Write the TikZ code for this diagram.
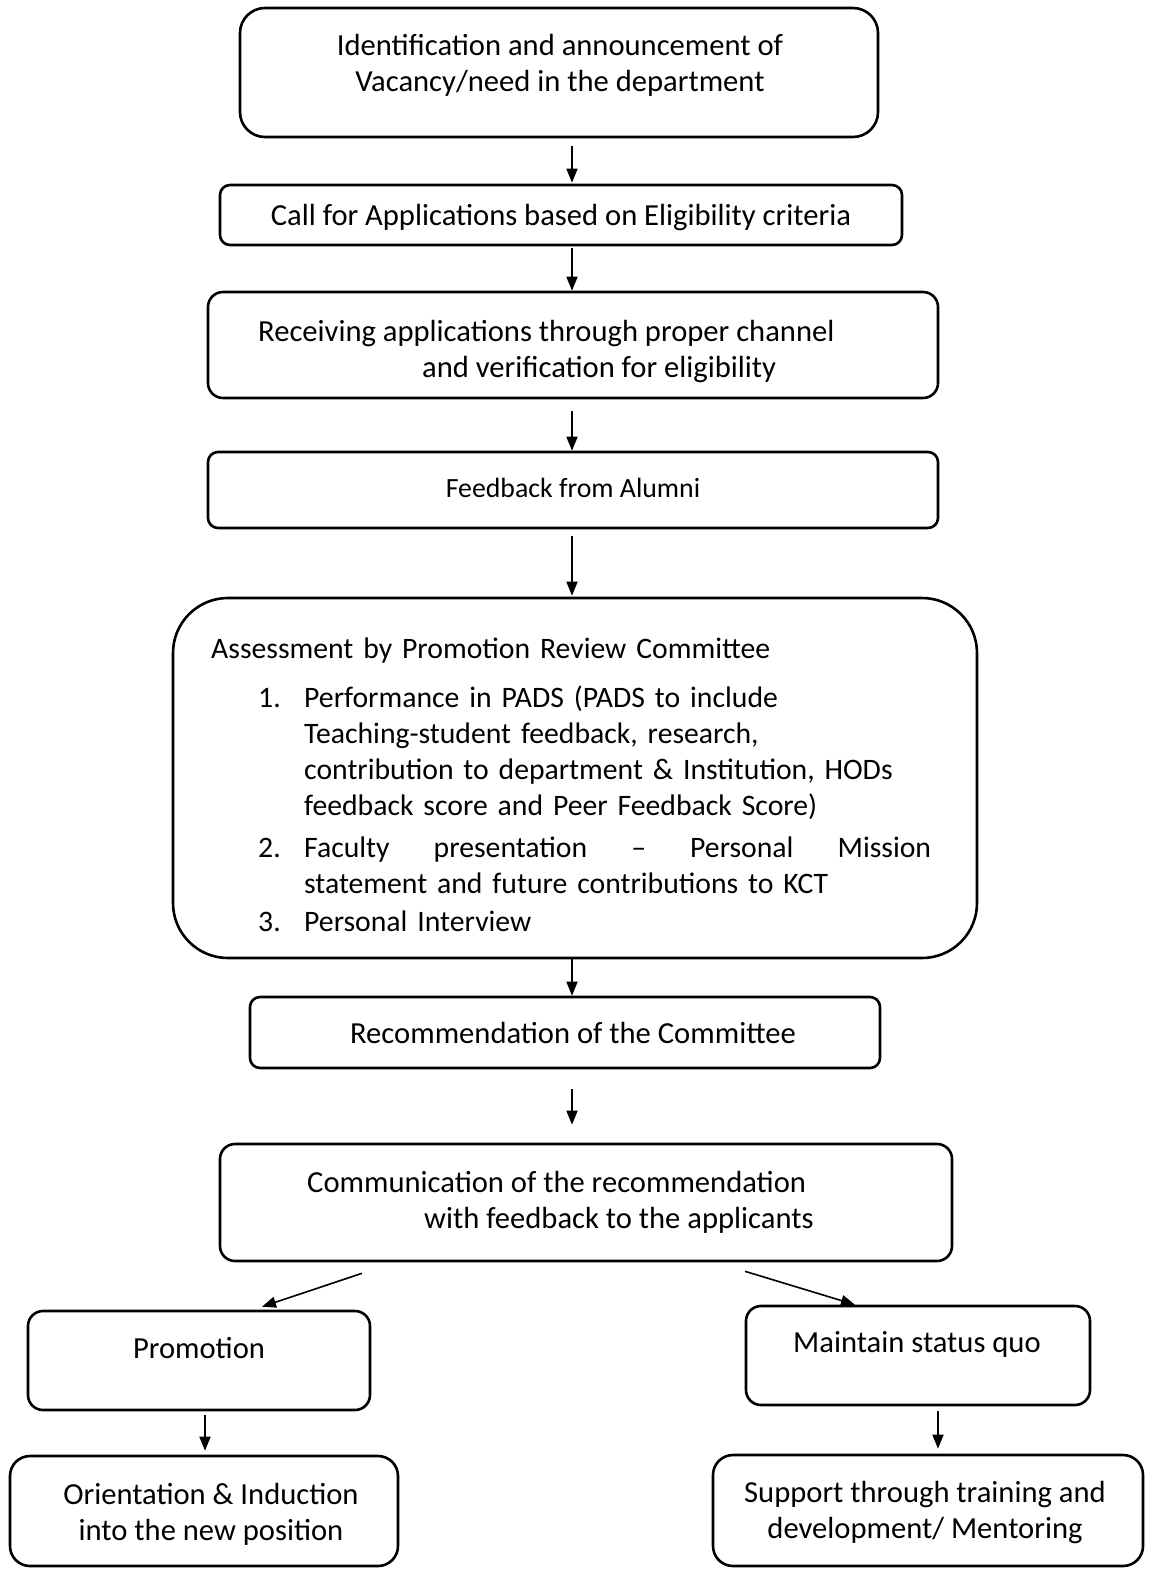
\documentclass[tikz,border=0pt]{standalone}
\usepackage{fontspec}
\setmainfont{Carlito}
\usetikzlibrary{arrows.meta}
\begin{document}
\begin{tikzpicture}[x=1pt,y=-1pt,
  box/.style={draw, line width=2.6pt, rectangle, inner sep=0pt},
  txt/.style={font=\fontsize{30.6}{36}\selectfont, inner sep=0pt, align=center},
  arr/.style={line width=1.6pt, -{Triangle[length=14pt,width=11pt]}}]
\useasboundingbox (0,0) rectangle (1155,1570);
\coordinate (ax) at (572,0);
% boxes
\node[box, rounded corners=25pt, minimum width=638pt, minimum height=129pt] (b1) at (559,72.5) {};
\node[box, rounded corners=10pt, minimum width=682pt, minimum height=60pt] (b2) at (561,215) {};
\node[box, rounded corners=15pt, minimum width=730pt, minimum height=106pt] (b3) at (573,345) {};
\node[box, rounded corners=10pt, minimum width=730pt, minimum height=76pt] (b4) at (573,490) {};
\node[box, rounded corners=55pt, minimum width=804pt, minimum height=360pt] (b5) at (575,778) {};
\node[box, rounded corners=10pt, minimum width=630pt, minimum height=71pt] (b6) at (565,1032.5) {};
\node[box, rounded corners=15pt, minimum width=732pt, minimum height=117pt] (b7) at (586,1202.5) {};
\node[box, rounded corners=15pt, minimum width=342pt, minimum height=99pt] (b8) at (199,1360.5) {};
\node[box, rounded corners=15pt, minimum width=344pt, minimum height=99pt] (b9) at (918,1355.5) {};
\node[box, rounded corners=20pt, minimum width=388pt, minimum height=110pt] (b10) at (204,1511) {};
\node[box, rounded corners=20pt, minimum width=430pt, minimum height=111pt] (b11) at (928,1510.5) {};
% texts
\node[txt] (t1) at (560,65) {Identification and announcement of\\Vacancy/need in the department};
\node[txt] (t2) at (561,218) {Call for Applications based on Eligibility criteria};
\node[txt, align=left, anchor=west] (t3) at (258,352) {Receiving applications through proper channel\\\hspace*{164pt}and verification for eligibility};
\node[txt, font=\fontsize{27.8}{36}\selectfont] (t4) at (573,488) {Feedback from Alumni};
\node[txt, font=\fontsize{29.7}{36}\selectfont, align=left, anchor=north west, text width=740pt] (t5) at (211,638) {Assessment by Promotion Review Committee\\[13pt]
\hspace*{47pt}\makebox[46pt][l]{1.}Performance in PADS (PADS to include\\
\hspace*{93pt}Teaching-student feedback, research,\\
\hspace*{93pt}contribution to department \& Institution, HODs\\
\hspace*{93pt}feedback score and Peer Feedback Score)\\[6pt]
\hspace*{47pt}\makebox[46pt][l]{2.}\makebox[627pt][s]{Faculty\hfill presentation\hfill –\hfill Personal\hfill Mission}\\
\hspace*{93pt}statement and future contributions to KCT\\[2pt]
\hspace*{47pt}\makebox[46pt][l]{3.}Personal Interview};
\node[txt] (t6) at (573,1033) {Recommendation of the Committee};
\node[txt, align=left, anchor=west] (t7) at (307,1202) {Communication of the recommendation\\\hspace*{117pt}with feedback to the applicants};
\node[txt] (t8) at (199,1348) {Promotion};
\node[txt] (t9) at (917,1344) {Maintain status quo};
\node[txt] (t10) at (211,1514) {Orientation \& Induction\\into the new position};
\node[txt] (t11) at (925,1512) {Support through training and\\development/ Mentoring};
% arrows
\draw[arr, shorten <=8pt] (b1.south -| ax) -- ([yshift=1pt]b2.north -| ax);
\draw[arr, shorten <=2pt] (b2.south -| ax) -- (b3.north -| ax);
\draw[arr, shorten <=12pt] (b3.south -| ax) -- (b4.north -| ax);
\draw[arr, shorten <=7pt] (b4.south -| ax) -- ([yshift=1pt]b5.north -| ax);
\draw[arr] (b5.south -| ax) -- (b6.north -| ax);
\draw[arr, shorten <=20pt] (b6.south -| ax) -- ([yshift=18pt]b7.north -| ax);
\draw[arr] ([xshift=-224pt,yshift=-11pt]b7.south) -- ([xshift=63pt,yshift=3pt]b8.north);
\draw[arr] ([xshift=159pt,yshift=-9pt]b7.south) -- ([xshift=-63pt]b9.north);
\draw[arr, shorten <=4pt] ([xshift=6pt]b8.south) -- ([xshift=1pt,yshift=4pt]b10.north);
\draw[arr, shorten <=5pt] ([xshift=20pt]b9.south) -- ([xshift=10pt,yshift=5pt]b11.north);
\end{tikzpicture}
\end{document}
